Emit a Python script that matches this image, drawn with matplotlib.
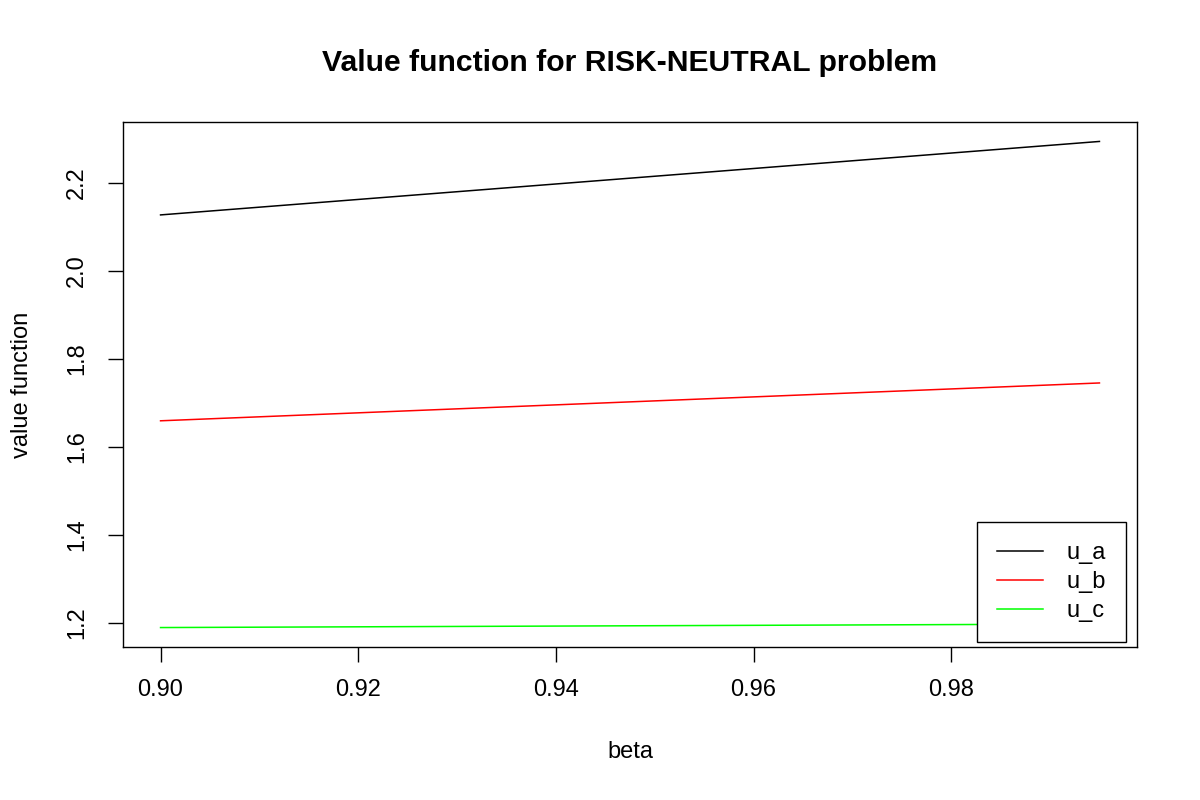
import matplotlib
matplotlib.use("Agg")
import matplotlib.pyplot as plt
import numpy as np

beta = [0.900, 0.995]
u_a = [2.127, 2.294]
u_b = [1.659, 1.745]
u_c = [1.189, 1.197]
series_names = ["u_a", "u_b", "u_c"]
colors = ["black", "red", "#00ff00"]
xticks = [0.90, 0.92, 0.94, 0.96, 0.98]
yticks = [1.2, 1.4, 1.6, 1.8, 2.0, 2.2]

plt.rcParams['font.family'] = ['Liberation Sans', 'DejaVu Sans']
FS = 17

fig = plt.figure(figsize=(12, 8), dpi=100)
ax = fig.add_axes([0.1025, 0.19125, 0.845, 0.65625])

for vals, c, n in zip([u_a, u_b, u_c], colors, series_names):
    ax.plot(beta, vals, color=c, lw=1.1, label=n)

allv = u_a + u_b + u_c
ymin, ymax = min(allv), max(allv)
dy = (ymax - ymin) * 0.04
ax.set_ylim(ymin - dy, ymax + dy)
dx = (beta[1] - beta[0]) * 0.04
ax.set_xlim(beta[0] - dx, beta[1] + dx)

ax.set_xticks(xticks)
ax.set_xticklabels([f"{t:.2f}" for t in xticks])
ax.set_yticks(yticks)
ax.set_yticklabels([f"{t:.1f}" for t in yticks], rotation=90, va='center')
ax.tick_params(direction='out', length=11, width=1, labelsize=FS)
ax.tick_params(axis='x', pad=12)
ax.tick_params(axis='y', pad=14)
for s in ax.spines.values():
    s.set_linewidth(1)

ax.set_xlabel("beta", fontsize=FS)
ax.xaxis.set_label_coords(0.5, -0.2)
ax.xaxis.label.set_va('center')
ax.set_ylabel("value function", fontsize=FS)
ax.yaxis.set_label_coords(-0.0996, 0.499)
ax.yaxis.label.set_va('center')
ax.text(0.5, 1 - 63 / 800, "Value function for RISK-NEUTRAL problem",
        transform=matplotlib.transforms.blended_transform_factory(ax.transAxes, fig.transFigure),
        fontsize=21.7, fontweight='bold', ha='center', va='center')

leg = ax.legend(loc='lower right', bbox_to_anchor=(0.9895, 0.0095), fontsize=FS,
                frameon=True, fancybox=False, edgecolor='black', handlelength=1.95,
                handletextpad=1.0, borderpad=0.85, labelspacing=0.3, borderaxespad=0)
leg.get_frame().set_linewidth(1)
leg.get_frame().set_alpha(1)

fig.savefig("out.png", dpi=100)
